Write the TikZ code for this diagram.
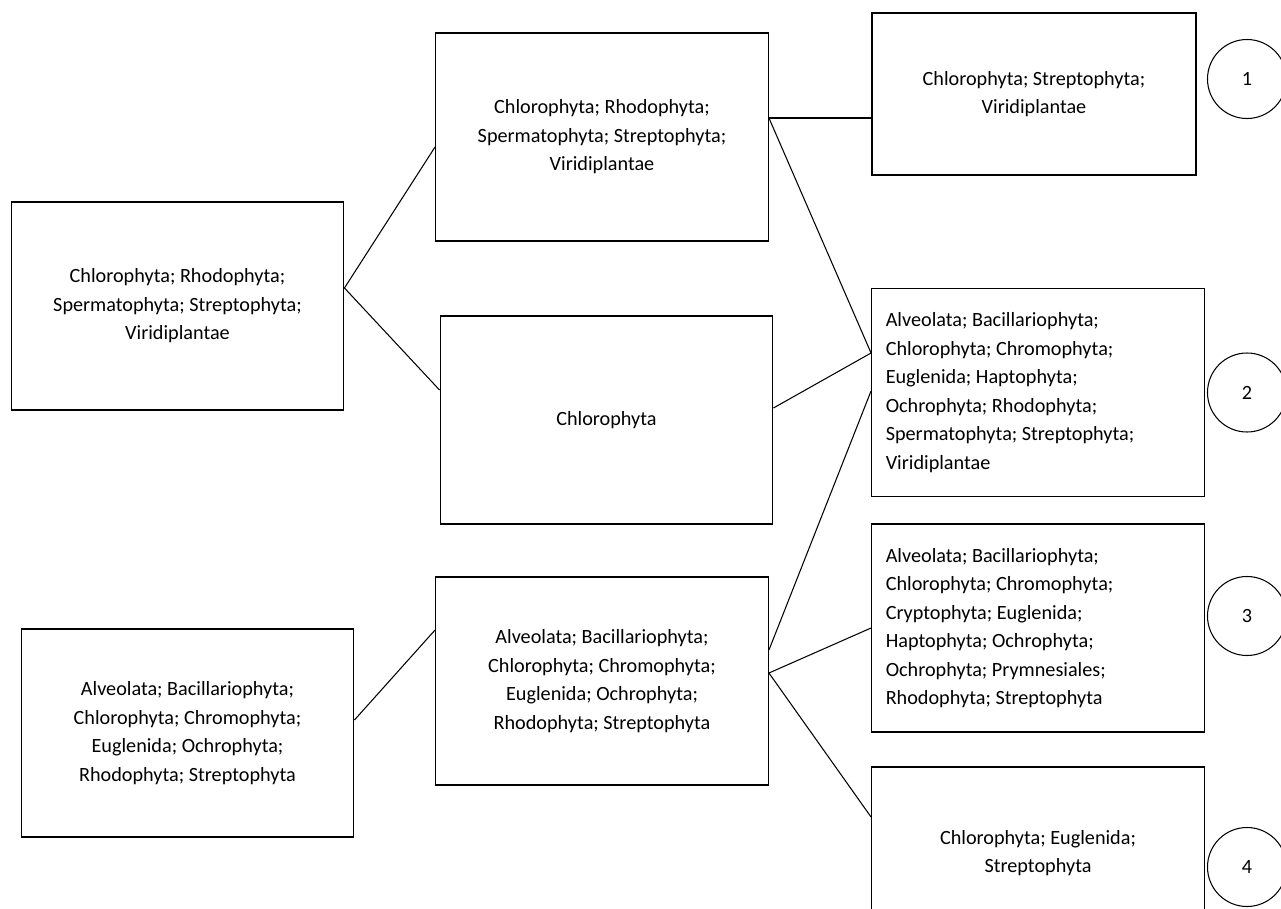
\documentclass[tikz,border=0pt]{standalone}
\usepackage{fontspec}
\setmainfont{Carlito}
\usepackage{tikz}
\usetikzlibrary{positioning}
\frenchspacing

\begin{document}
\begin{tikzpicture}[node distance=5cm, on grid, box/.style={rectangle, draw, line width=0.8pt, minimum width=6.65cm, minimum height=4.16cm, inner sep=0pt, align=center, font=\fontsize{11.5}{16.2}\selectfont}, listbox/.style={box, align=flush left, text width=6.09cm}, tag/.style={circle, draw, line width=0.6pt, minimum size=1.58cm, inner sep=0pt, font=\fontsize{11.5}{14}\selectfont}]

        \useasboundingbox (0,0) rectangle (25.62,-18.18);

        \node[box] (A) at (3.55,-6.12) {Chlorophyta; Rhodophyta;\\Spermatophyta; Streptophyta;\\Viridiplantae};

        \node[box, above right=3.38cm and 8.49cm of A] (B) {Chlorophyta; Rhodophyta;\\Spermatophyta; Streptophyta;\\Viridiplantae};

        \node[box, below right=5.66cm and 0.09cm of B] (C) {Chlorophyta};

        \node[box, below left=5.22cm and 0.09cm of C] (E) {Alveolata; Bacillariophyta;\\Chlorophyta; Chromophyta;\\Euglenida; Ochrophyta;\\Rhodophyta; Streptophyta};

        \node[box, below left=1.04cm and 8.29cm of E] (D) {Alveolata; Bacillariophyta;\\Chlorophyta; Chromophyta;\\Euglenida; Ochrophyta;\\Rhodophyta; Streptophyta};

        \node[box, minimum width=6.48cm, minimum height=3.24cm, above right=0.86cm and 8.64cm of B] (F) {Chlorophyta; Streptophyta;\\Viridiplantae};

        \node[listbox, above right=0.55cm and 8.63cm of C] (G) {Alveolata; Bacillariophyta;\\Chlorophyta; Chromophyta;\\Euglenida; Haptophyta;\\Ochrophyta; Rhodophyta;\\Spermatophyta; Streptophyta;\\Viridiplantae};

        \node[listbox, below=4.71cm of G] (H) {Alveolata; Bacillariophyta;\\Chlorophyta; Chromophyta;\\Cryptophyta; Euglenida;\\Haptophyta; Ochrophyta;\\Ochrophyta; Prymnesiales;\\Rhodophyta; Streptophyta};

        \node[box, minimum height=3.44cm, below=4.5cm of H] (I) {Chlorophyta; Euglenida;\\Streptophyta};

        \node[tag, above right=0.30cm and 4.26cm of F] (t1) {1};
        \node[tag, right=4.18cm of G] (t2) {2};
        \node[tag, above right=0.24cm and 4.18cm of H] (t3) {3};
        \node[tag, below right=0.28cm and 4.18cm of I] (t4) {4};

        \path[line width=0.6pt]
        ([yshift=0.36cm]A.east) edge[] ([yshift=-0.2cm]B.west)
        ([yshift=0.36cm]A.east) edge[] ([yshift=0.6cm]C.west)
        ([yshift=0.26cm]D.east) edge[] ([yshift=1.02cm]E.west)
        ([yshift=0.38cm]B.east) edge[] ([yshift=-0.48cm]F.west)
        ([yshift=0.38cm]B.east) edge[] ([yshift=0.79cm]G.west)
        ([yshift=0.24cm]C.east) edge[] ([yshift=0.79cm]G.west)
        ([yshift=0.62cm]E.east) edge[] ([yshift=0.03cm]G.west)
        ([yshift=0.16cm]E.east) edge[] (H.west)
        ([yshift=0.16cm]E.east) edge[] ([yshift=0.72cm]I.west);

    \end{tikzpicture}
\end{document}
